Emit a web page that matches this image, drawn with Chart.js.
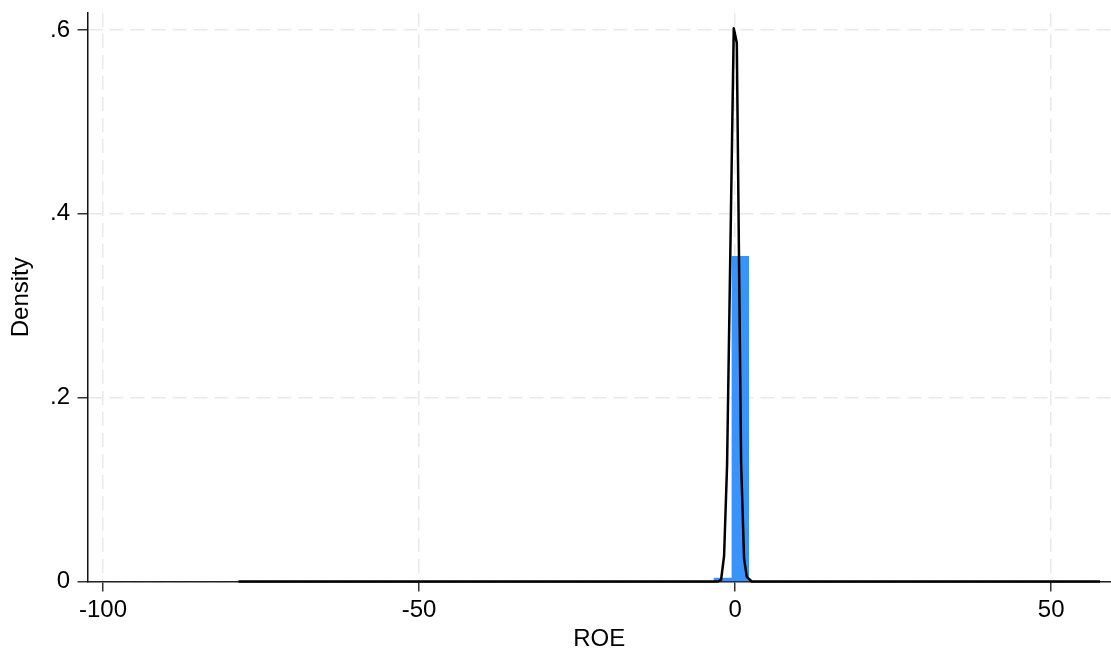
<!DOCTYPE html>
<html>
<head>
<meta charset="utf-8">
<script src="https://cdn.jsdelivr.net/npm/chart.js@4.4.1/dist/chart.umd.min.js"></script>
<style>
  html, body { margin: 0; padding: 0; background: #fff; }
</style>
</head>
<body>
<canvas id="roeChart" width="1111" height="654"></canvas>
<script>
// histogram of ROE: bin edges and density of each bin
const binEdges = [-3.43, -0.55, 2.21];
const binDensity = [0.004, 0.354];

// kernel density estimate
const kdeX = [-78.57, -2.69, -2.21, -1.74, -1.27, -0.21, 0.27, 0.95, 1.42, 1.85, 2.64, 57.73];
const kdeY = [0, 0, 0.002, 0.028, 0.126, 0.602, 0.586, 0.13, 0.025, 0.005, 0, 0];

const xTicks = [-100, -50, 0, 50];
const yTicks = [0, 0.2, 0.4, 0.6];
const yTickLabels = ["0", ".2", ".4", ".6"];

// rectangles of the histogram, built from the bins
const histPoints = [];
binDensity.forEach((d, i) => {
  histPoints.push({ x: binEdges[i], y: 0 });
  histPoints.push({ x: binEdges[i], y: d });
  histPoints.push({ x: binEdges[i + 1], y: d });
  histPoints.push({ x: binEdges[i + 1], y: 0 });
});

const kdePoints = kdeX.map((x, i) => ({ x: x, y: kdeY[i] }));

Chart.defaults.font.family = '"Liberation Sans", Arial, Helvetica, sans-serif';
Chart.defaults.font.size = 24;
Chart.defaults.color = "#000";

const gridStyle = {
  color: "#e9e9e9",
  lineWidth: 1.5,
  tickColor: "#333",
  tickLength: 10,
  tickWidth: 1.5,
  tickBorderDash: [],
};

new Chart(document.getElementById("roeChart").getContext("2d"), {
  type: "line",
  data: {
    datasets: [
      {
        label: "kdensity",
        data: kdePoints,
        borderColor: "#000",
        borderWidth: 2.5,
        borderJoinStyle: "round",
        pointRadius: 0,
        tension: 0,
        fill: false,
        clip: false,
        order: 0,
      },
      {
        label: "histogram",
        data: histPoints,
        borderWidth: 0,
        borderColor: "rgba(0,0,0,0)",
        backgroundColor: "#3894fb",
        pointRadius: 0,
        tension: 0,
        fill: "origin",
        order: 1,
      },
    ],
  },
  options: {
    responsive: false,
    animation: false,
    devicePixelRatio: 1,
    layout: { padding: { top: 13, right: 0, left: 0, bottom: 0 } },
    plugins: {
      legend: { display: false },
      tooltip: { enabled: false },
    },
    scales: {
      x: {
        type: "linear",
        min: -102.45,
        max: 59.47,
        afterBuildTicks: (scale) => {
          scale.ticks = xTicks.map((v) => ({ value: v }));
        },
        afterFit: (scale) => {
          scale.height = 72.5;
          scale.paddingLeft = 0;
          scale.paddingRight = 0;
        },
        ticks: {
          padding: 4,
          maxRotation: 0,
          callback: (v) => String(v),
        },
        grid: gridStyle,
        border: { display: true, color: "#222", width: 1.5, dash: [14, 7] },
        title: {
          display: true,
          text: "ROE",
          padding: { top: 0, bottom: 0 },
        },
      },
      y: {
        type: "linear",
        min: 0,
        max: 0.6185,
        afterBuildTicks: (scale) => {
          scale.ticks = yTicks.map((v) => ({ value: v }));
        },
        afterFit: (scale) => {
          scale.width = 87.5;
          scale.paddingTop = 0;
          scale.paddingBottom = 0;
        },
        ticks: {
          padding: 7.5,
          callback: (v) => yTickLabels[yTicks.indexOf(v)],
        },
        grid: gridStyle,
        border: { display: true, color: "#111", width: 1.5, dash: [14, 7] },
        title: {
          display: true,
          text: "Density",
          padding: { top: 7, bottom: 0 },
        },
      },
    },
  },
});
</script>
</body>
</html>
